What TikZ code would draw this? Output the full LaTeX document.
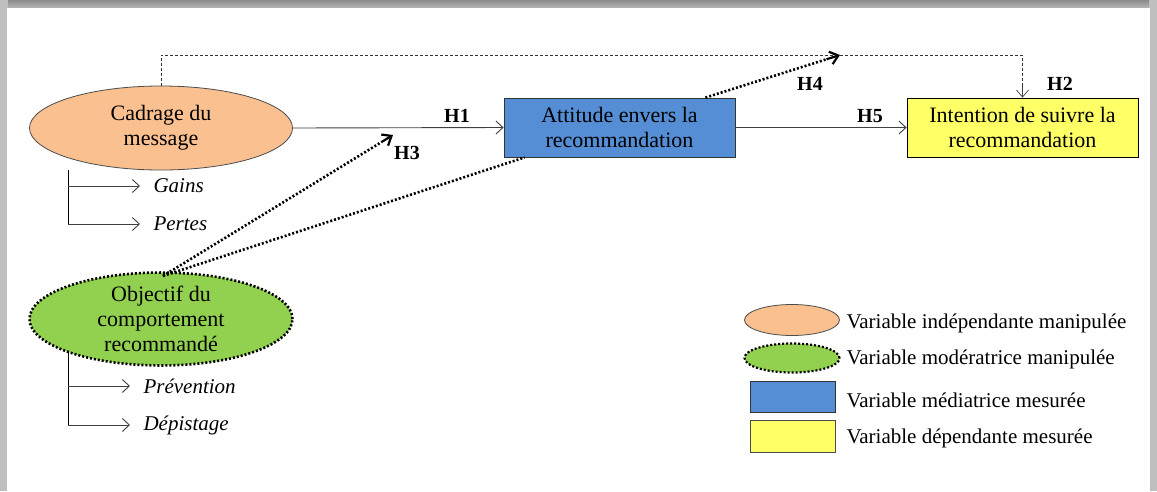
\documentclass[tikz,border=0pt]{standalone}
\usepackage{fontspec}
\setmainfont{Liberation Serif}
\usetikzlibrary{arrows.meta,shapes.geometric,calc}
\definecolor{cOrange}{HTML}{FAC090}
\definecolor{cGreen}{HTML}{92D050}
\definecolor{cBlue}{HTML}{558ED5}
\definecolor{cYellow}{HTML}{FFFF66}
\tikzset{
  txt/.style={font=\fontsize{22}{25}\selectfont, align=center},
  hlab/.style={font=\fontsize{20}{22}\selectfont\bfseries},
  itl/.style={font=\fontsize{21}{24}\selectfont\itshape, anchor=west},
  leg/.style={font=\fontsize{21}{24}\selectfont, anchor=west},
  indep/.style={ellipse, draw=black!70, line width=0.8pt, fill=cOrange, inner sep=0pt},
  moder/.style={ellipse, draw=black, line width=2.6pt, dash pattern=on 2pt off 2pt, fill=cGreen, inner sep=0pt},
  mediat/.style={rectangle, draw=black!80, line width=0.8pt, fill=cBlue, inner sep=0pt},
  depend/.style={rectangle, draw=black, line width=0.8pt, fill=cYellow, inner sep=0pt},
  thinarr/.style={draw=black!75, line width=0.9pt, -{Straight Barb[length=7pt,width=13pt]}},
  dotarr/.style={draw=black, line width=2.6pt, dash pattern=on 2pt off 2pt},
  dashln/.style={draw=black!80, line width=0.7pt, dash pattern=on 3pt off 2pt},
  headarr/.style={line width=2.2pt, -{Straight Barb[length=8pt,width=13pt]}},
}
\begin{document}
\begin{tikzpicture}[x=1pt,y=-1pt]
\useasboundingbox (0,0) rectangle (1157,491);
% frame shadow
\shade[top color=black!45, bottom color=black!25] (0,0) rectangle (1157,10);
\fill[black!25] (0,0) rectangle (8,491);
\fill[black!25] (1149,0) rectangle (1157,491);
\fill[white] (7,8) rectangle (1150,491);

% main nodes
\node[indep, minimum width=263pt, minimum height=84pt, txt] (cad) at (161,128) {Cadrage du\\message};
\node[moder, minimum width=263pt, minimum height=80pt, txt] (obj) at (161,319) {Objectif du\\comportement\\recommandé};
\node[mediat, minimum width=231pt, minimum height=59pt, txt] (att) at (619.5,127.5) {Attitude envers la\\recommandation};
\node[depend, minimum width=231pt, minimum height=59pt, txt] (int) at (1022.5,127.5) {Intention de suivre la\\recommandation};

% dashed H2 path
\coordinate (dtop) at (0,55);
\draw[dashln] (cad.north) -- (cad.north |- dtop) -| (int.north);
\coordinate (h2pre) at ($(int.north)+(0,-12)$);
\draw[draw=black!75, line width=0.7pt, -{Straight Barb[length=7pt,width=12pt]}] (h2pre) -- (int.north);

% H1, H5
\draw[thinarr] (cad.east) -- (att.west);
\draw[thinarr] (att.east) -- (int.west);

% dotted
\coordinate (h3end) at (393,135);
\coordinate (h4end) at (840,55);
\coordinate (objtop) at (163,276);
\coordinate (h4start) at ($(att.north east)+(-30,0)$);
\coordinate (attsw) at ($(att.south west)+(21,0)$);
\coordinate (h3pre) at ($(objtop)!0.95!(h3end)$);
\coordinate (h4pre) at ($(h4start)!0.9!(h4end)$);
\draw[dotarr] (objtop) -- (h3pre);
\draw[headarr] (h3pre) -- (h3end);
\draw[dotarr] (objtop) -- (attsw);
\draw[dotarr] (h4start) -- (h4pre);
\draw[headarr] (h4pre) -- (h4end);

% labels
\node[hlab] (lh1) at (457,116) {H1};
\node[hlab] (lh3) at (407,153) {H3};
\node[hlab] (lh4) at (810,84) {H4};
\node[hlab] (lh5) at (870,116) {H5};
\node[hlab] (lh2) at (1060,84) {H2};

% sub-items
\coordinate (cb) at (68,170);
\node[itl] (gains) at (150,186) {Gains};
\node[itl] (pertes) at (150,224) {Pertes};
\draw[draw=black, line width=0.9pt] (cb) -- (cb |- pertes.west);
\draw[thinarr] (cb |- gains.west) -- ++(72,0);
\draw[thinarr] (cb |- pertes.west) -- ++(72,0);

\coordinate (ob) at (68,352);
\node[itl] (prev) at (140,386) {Prévention};
\node[itl] (dep) at (140,425) {Dépistage};
\draw[draw=black, line width=0.9pt] (ob) -- (ob |- dep.west);
\draw[thinarr] (ob |- prev.west) -- ++(62,0);
\draw[thinarr] (ob |- dep.west) -- ++(62,0);

% legend
\node[indep, minimum width=95pt, minimum height=31pt] (l1) at (792,320) {};
\node[moder, minimum width=95pt, minimum height=29pt, line width=2.2pt] (l2) at (792,358) {};
\node[mediat, minimum width=85pt, minimum height=31pt] (l3) at (792.5,396.5) {};
\node[depend, draw=black!70, minimum width=85pt, minimum height=32pt] (l4) at (792.5,436) {};
\node[leg] (t1) at (843,323) {Variable indépendante manipulée};
\node[leg] (t2) at (843,359) {Variable modératrice manipulée};
\node[leg] (t3) at (843,400) {Variable médiatrice mesurée};
\node[leg] (t4) at (843,438) {Variable dépendante mesurée};
\end{tikzpicture}
\end{document}
